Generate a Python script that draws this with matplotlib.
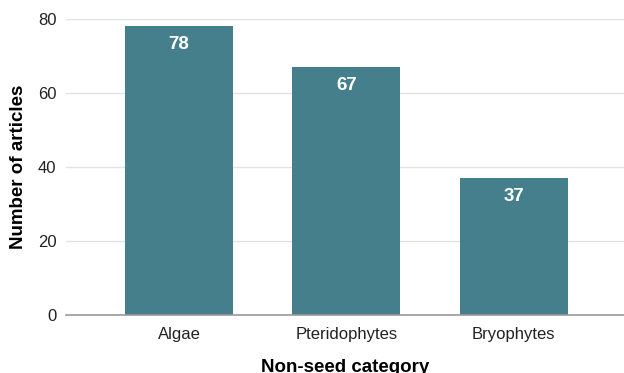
import matplotlib
matplotlib.use("Agg")
import matplotlib.pyplot as plt

categories = ["Algae", "Pteridophytes", "Bryophytes"]
values = [78, 67, 37]
yticks = [0, 20, 40, 60, 80]

plt.rcParams['font.family'] = ['Liberation Sans', 'DejaVu Sans']

fig = plt.figure(figsize=(6.24, 3.73), dpi=100)
ax = fig.add_axes([0.106, 0.1555, 0.894, 0.7935])

x = list(range(len(categories)))
bars = ax.bar(x, values, width=0.645, color="#467F8C", zorder=3)
for xi, v in zip(x, values):
    ax.text(xi, v - 2.6, str(v), ha="center", va="top", color="white",
            fontsize=13.5, fontweight="bold", zorder=4)

ax.set_xlim(-0.675, 2.66)
ax.set_ylim(0, 80)
ax.set_yticks(yticks)
ax.set_xticks(x)
ax.set_xticklabels(categories)
ax.tick_params(axis="both", length=0, labelsize=12, colors="#222222")
ax.tick_params(axis="x", pad=9)
ax.tick_params(axis="y", pad=7)
ax.yaxis.grid(True, color="#e3e3e3", linewidth=1, zorder=0)
for s in ["top", "right", "left"]:
    ax.spines[s].set_visible(False)
ax.spines["bottom"].set_color("#9a9a9a")
ax.spines["bottom"].set_linewidth(1.2)
ax.spines["bottom"].set_zorder(5)

ax.set_ylabel("Number of articles", fontsize=13.5, fontweight="bold", labelpad=8)
ax.set_xlabel("Non-seed category", fontsize=13.5, fontweight="bold", labelpad=12)

fig.savefig("out.png", dpi=100)
